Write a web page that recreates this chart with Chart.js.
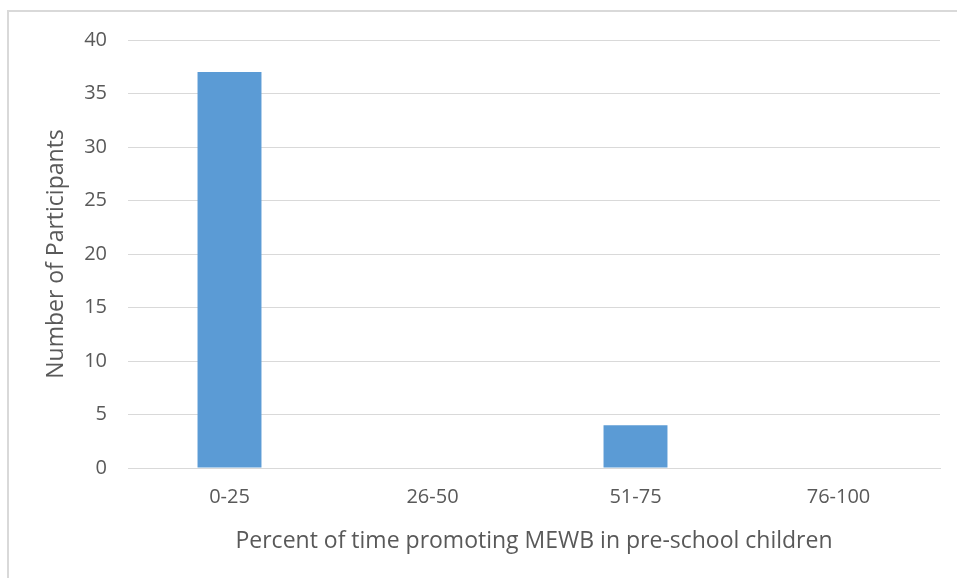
<!DOCTYPE html>
<html>
<head>
<meta charset="utf-8">
<script src="https://cdn.jsdelivr.net/npm/chart.js@4/dist/chart.umd.min.js"></script>
<style>
  html, body { margin: 0; padding: 0; background: #fff; }
  #wrap { position: relative; width: 957px; height: 578px; }
</style>
</head>
<body>
<div id="wrap"><canvas id="c" width="957" height="578"></canvas></div>
<script>
const categories = ['0-25', '26-50', '51-75', '76-100'];
const participants = [37, 0, 4, 0];
const yTicks = [0, 5, 10, 15, 20, 25, 30, 35, 40];
const xTitle = 'Percent of time promoting MEWB in pre-school children';
const yTitle = 'Number of Participants';

const textColor = '#595959';
const fontFamily = '"Open Sans", "Noto Sans", sans-serif';

const framePlugin = {
  id: 'frame',
  beforeDraw(chart) {
    const ctx = chart.ctx;
    ctx.save();
    ctx.fillStyle = '#ffffff';
    ctx.fillRect(0, 0, chart.width, chart.height);
    ctx.fillStyle = '#d9d9d9';
    ctx.fillRect(7, 10, chart.width - 7, 2);
    ctx.fillRect(7, 10, 2, chart.height - 10);
    ctx.restore();
  }
};

new Chart(document.getElementById('c'), {
  type: 'bar',
  data: {
    labels: categories,
    datasets: [{
      data: participants,
      backgroundColor: '#5B9BD5',
      borderWidth: 0,
      categoryPercentage: 1,
      barPercentage: 0.315
    }]
  },
  options: {
    responsive: false,
    animation: false,
    devicePixelRatio: 1,
    layout: { padding: { left: 0, right: 17, top: 40, bottom: 0 } },
    plugins: { legend: { display: false }, tooltip: { enabled: false } },
    scales: {
      x: {
        grid: { display: false, drawTicks: false },
        border: { display: true, color: '#d9d9d9', width: 1 },
        ticks: { color: textColor, font: { family: fontFamily, size: 20 }, padding: 17 },
        title: { display: true, text: xTitle, color: textColor, font: { family: fontFamily, size: 23 }, padding: { top: 0, bottom: 23 } },
        afterFit(s) { s.height = 110; }
      },
      y: {
        min: 0, max: 40,
        afterBuildTicks(s) { s.ticks = yTicks.map(v => ({ value: v })); },
        grid: { color: '#d9d9d9', lineWidth: 1, drawTicks: false },
        border: { display: false },
        ticks: { color: textColor, font: { family: fontFamily, size: 20 }, padding: 21 },
        title: { display: true, text: yTitle, color: textColor, font: { family: fontFamily, size: 23 }, padding: { top: 43, bottom: 0 } },
        afterFit(s) { s.width = 128; }
      }
    }
  },
  plugins: [framePlugin]
});
</script>
</body>
</html>
